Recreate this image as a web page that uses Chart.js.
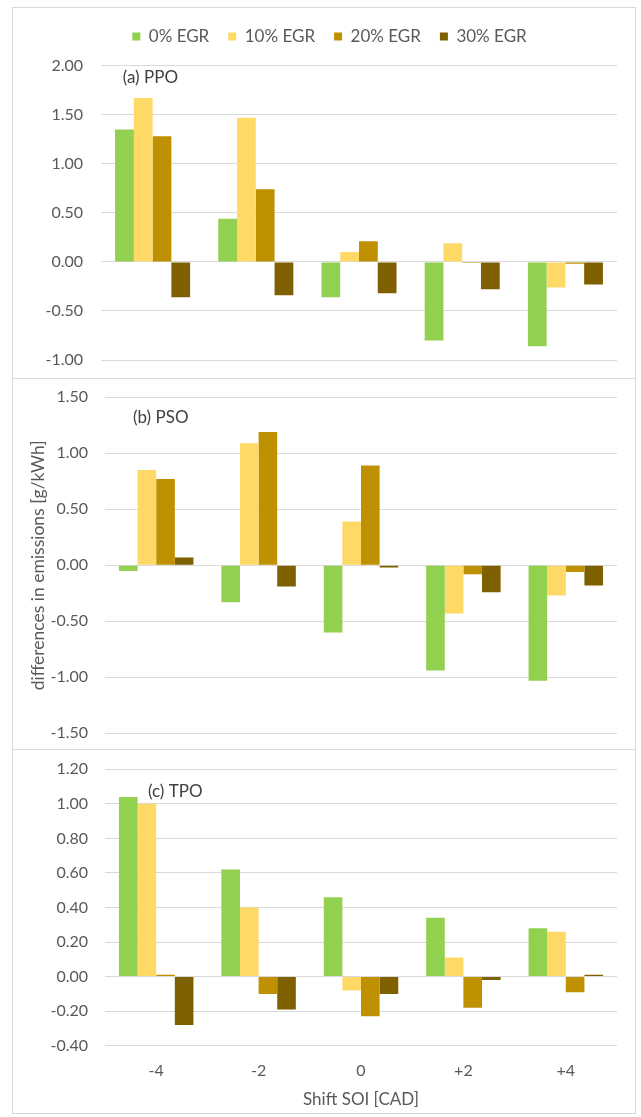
<!DOCTYPE html>
<html>
<head>
<meta charset="utf-8">
<script src="https://cdn.jsdelivr.net/npm/chart.js@4.4.1/dist/chart.umd.min.js"></script>
<style>
  html, body { margin: 0; padding: 0; background: #ffffff; }
  body { width: 641px; height: 1117px; position: relative; overflow: hidden; }
  .frame { position: absolute; border: 1px solid #d9d9d9; box-sizing: border-box; }
  canvas { position: absolute; }
</style>
</head>
<body>
<div class="frame" style="left:12px;top:7px;width:624px;height:372px"></div>
<div class="frame" style="left:12px;top:378px;width:624px;height:372px"></div>
<div class="frame" style="left:12px;top:749px;width:624px;height:365px"></div>
<canvas id="ppo" width="623" height="371" style="left:12px;top:7px"></canvas>
<canvas id="pso" width="623" height="370" style="left:12px;top:379px"></canvas>
<canvas id="tpo" width="623" height="363" style="left:12px;top:750px"></canvas>
<script>
// SOI shift categories (crank angle degrees)
const categories = ['-4', '-2', '0', '+2', '+4'];
const seriesNames = ['0% EGR', '10% EGR', '20% EGR', '30% EGR'];
const seriesColors = ['#92d050', '#ffd966', '#bf9000', '#7f6000'];

// (a) PPO differences in emissions [g/kWh]
const ppoEgr0  = [1.35, 0.44, -0.36, -0.80, -0.86];
const ppoEgr10 = [1.67, 1.47, 0.10, 0.19, -0.26];
const ppoEgr20 = [1.28, 0.74, 0.21, -0.01, -0.02];
const ppoEgr30 = [-0.36, -0.34, -0.32, -0.28, -0.23];

// (b) PSO differences in emissions [g/kWh]
const psoEgr0  = [-0.05, -0.33, -0.60, -0.94, -1.03];
const psoEgr10 = [0.85, 1.09, 0.39, -0.43, -0.27];
const psoEgr20 = [0.77, 1.19, 0.89, -0.08, -0.06];
const psoEgr30 = [0.07, -0.19, -0.02, -0.24, -0.18];

// (c) TPO differences in emissions [g/kWh]
const tpoEgr0  = [1.04, 0.62, 0.46, 0.34, 0.28];
const tpoEgr10 = [1.00, 0.40, -0.08, 0.11, 0.26];
const tpoEgr20 = [0.01, -0.10, -0.23, -0.18, -0.09];
const tpoEgr30 = [-0.28, -0.19, -0.10, -0.02, 0.01];

// value axis tick marks per panel
const ppoTicks = [-1.0, -0.5, 0.0, 0.5, 1.0, 1.5, 2.0];
const psoTicks = [-1.5, -1.0, -0.5, 0.0, 0.5, 1.0, 1.5];
const tpoTicks = [-0.4, -0.2, 0.0, 0.2, 0.4, 0.6, 0.8, 1.0, 1.2];

const yAxisTitle = 'differences in emissions [g/kWh]';
const xAxisTitle = 'Shift SOI [CAD]';

Chart.defaults.font.family = 'Lato, "Open Sans", sans-serif';
Chart.defaults.color = '#595959';
Chart.defaults.animation = false;

function buildDatasets(series) {
  return series.map((values, i) => ({
    label: seriesNames[i],
    data: values,
    backgroundColor: seriesColors[i],
    borderWidth: 0,
    categoryPercentage: 4 / 5.5,
    barPercentage: 1.0
  }));
}

// extra room under the legend so the plot starts lower
function legendSpacer(height) {
  return {
    id: 'legendSpacer',
    beforeLayout(chart) {
      const lg = chart.legend;
      if (lg && !lg._spaced) {
        const fit = lg.fit;
        lg.fit = function () { fit.call(this); this.height = height; };
        lg._spaced = true;
      }
    }
  };
}

// panel caption drawn inside the plot
function panelCaption(text, x, y) {
  return {
    id: 'panelCaption',
    afterDraw(chart) {
      const ctx = chart.ctx;
      ctx.save();
      ctx.font = '17px Lato, "Open Sans", sans-serif';
      ctx.fillStyle = '#404040';
      ctx.textAlign = 'left';
      ctx.textBaseline = 'middle';
      ctx.fillText(text, x, y);
      ctx.restore();
    }
  };
}

function makeChart(id, series, ticks, cfg) {
  const plugins = [panelCaption(cfg.caption, cfg.capX, cfg.capY)];
  if (cfg.legend) plugins.push(legendSpacer(cfg.legendHeight));
  return new Chart(document.getElementById(id), {
    type: 'bar',
    data: { labels: categories, datasets: buildDatasets(series) },
    options: {
      responsive: false,
      maintainAspectRatio: false,
      layout: { padding: cfg.padding },
      plugins: {
        legend: {
          display: !!cfg.legend,
          position: 'top',
          labels: {
            boxWidth: 8, boxHeight: 8, padding: 19,
            color: '#595959', font: { size: 17 }
          }
        },
        tooltip: { enabled: false }
      },
      scales: {
        x: {
          display: !!cfg.showX,
          grid: { display: false, drawTicks: false },
          border: { display: false },
          ticks: { padding: 16, color: '#595959', font: { size: 16 } },
          title: {
            display: true, text: xAxisTitle, color: '#595959',
            font: { size: 17 }, padding: { top: 0, bottom: 3 }
          },
          afterFit: s => { if (cfg.xHeight) s.height = cfg.xHeight; }
        },
        y: {
          min: ticks[0],
          max: ticks[ticks.length - 1],
          afterBuildTicks: s => { s.ticks = ticks.map(v => ({ value: v })); },
          afterFit: s => { s.width = cfg.yWidth; },
          grid: {
            color: '#d9d9d9', lineWidth: 1,
            drawTicks: true, tickLength: cfg.tickGap, tickColor: 'rgba(0,0,0,0)'
          },
          border: { display: false },
          ticks: {
            padding: 0, color: '#595959', font: { size: 16 },
            callback: v => Number(v).toFixed(2)
          },
          title: {
            display: !!cfg.yTitle, text: yAxisTitle, color: '#595959',
            font: { size: 17.5 }, padding: { top: 16, bottom: 0 }
          }
        }
      }
    },
    plugins
  });
}

makeChart('ppo', [ppoEgr0, ppoEgr10, ppoEgr20, ppoEgr30], ppoTicks, {
  caption: '(a) PPO', capX: 110.7, capY: 71,
  legend: true, legendHeight: 56.7,
  padding: { left: 30, right: 18, top: 2, bottom: 18 },
  yWidth: 59, tickGap: 18
});

makeChart('pso', [psoEgr0, psoEgr10, psoEgr20, psoEgr30], psoTicks, {
  caption: '(b) PSO', capX: 121, capY: 39,
  yTitle: true,
  padding: { left: 0, right: 18, top: 18.3, bottom: 15.7 },
  yWidth: 93, tickGap: 17
});

makeChart('tpo', [tpoEgr0, tpoEgr10, tpoEgr20, tpoEgr30], tpoTicks, {
  caption: '(c) TPO', capX: 136, capY: 42,
  showX: true, xHeight: 67.3,
  padding: { left: 0, right: 18, top: 19.3, bottom: 0 },
  yWidth: 93, tickGap: 17
});
</script>
</body>
</html>
